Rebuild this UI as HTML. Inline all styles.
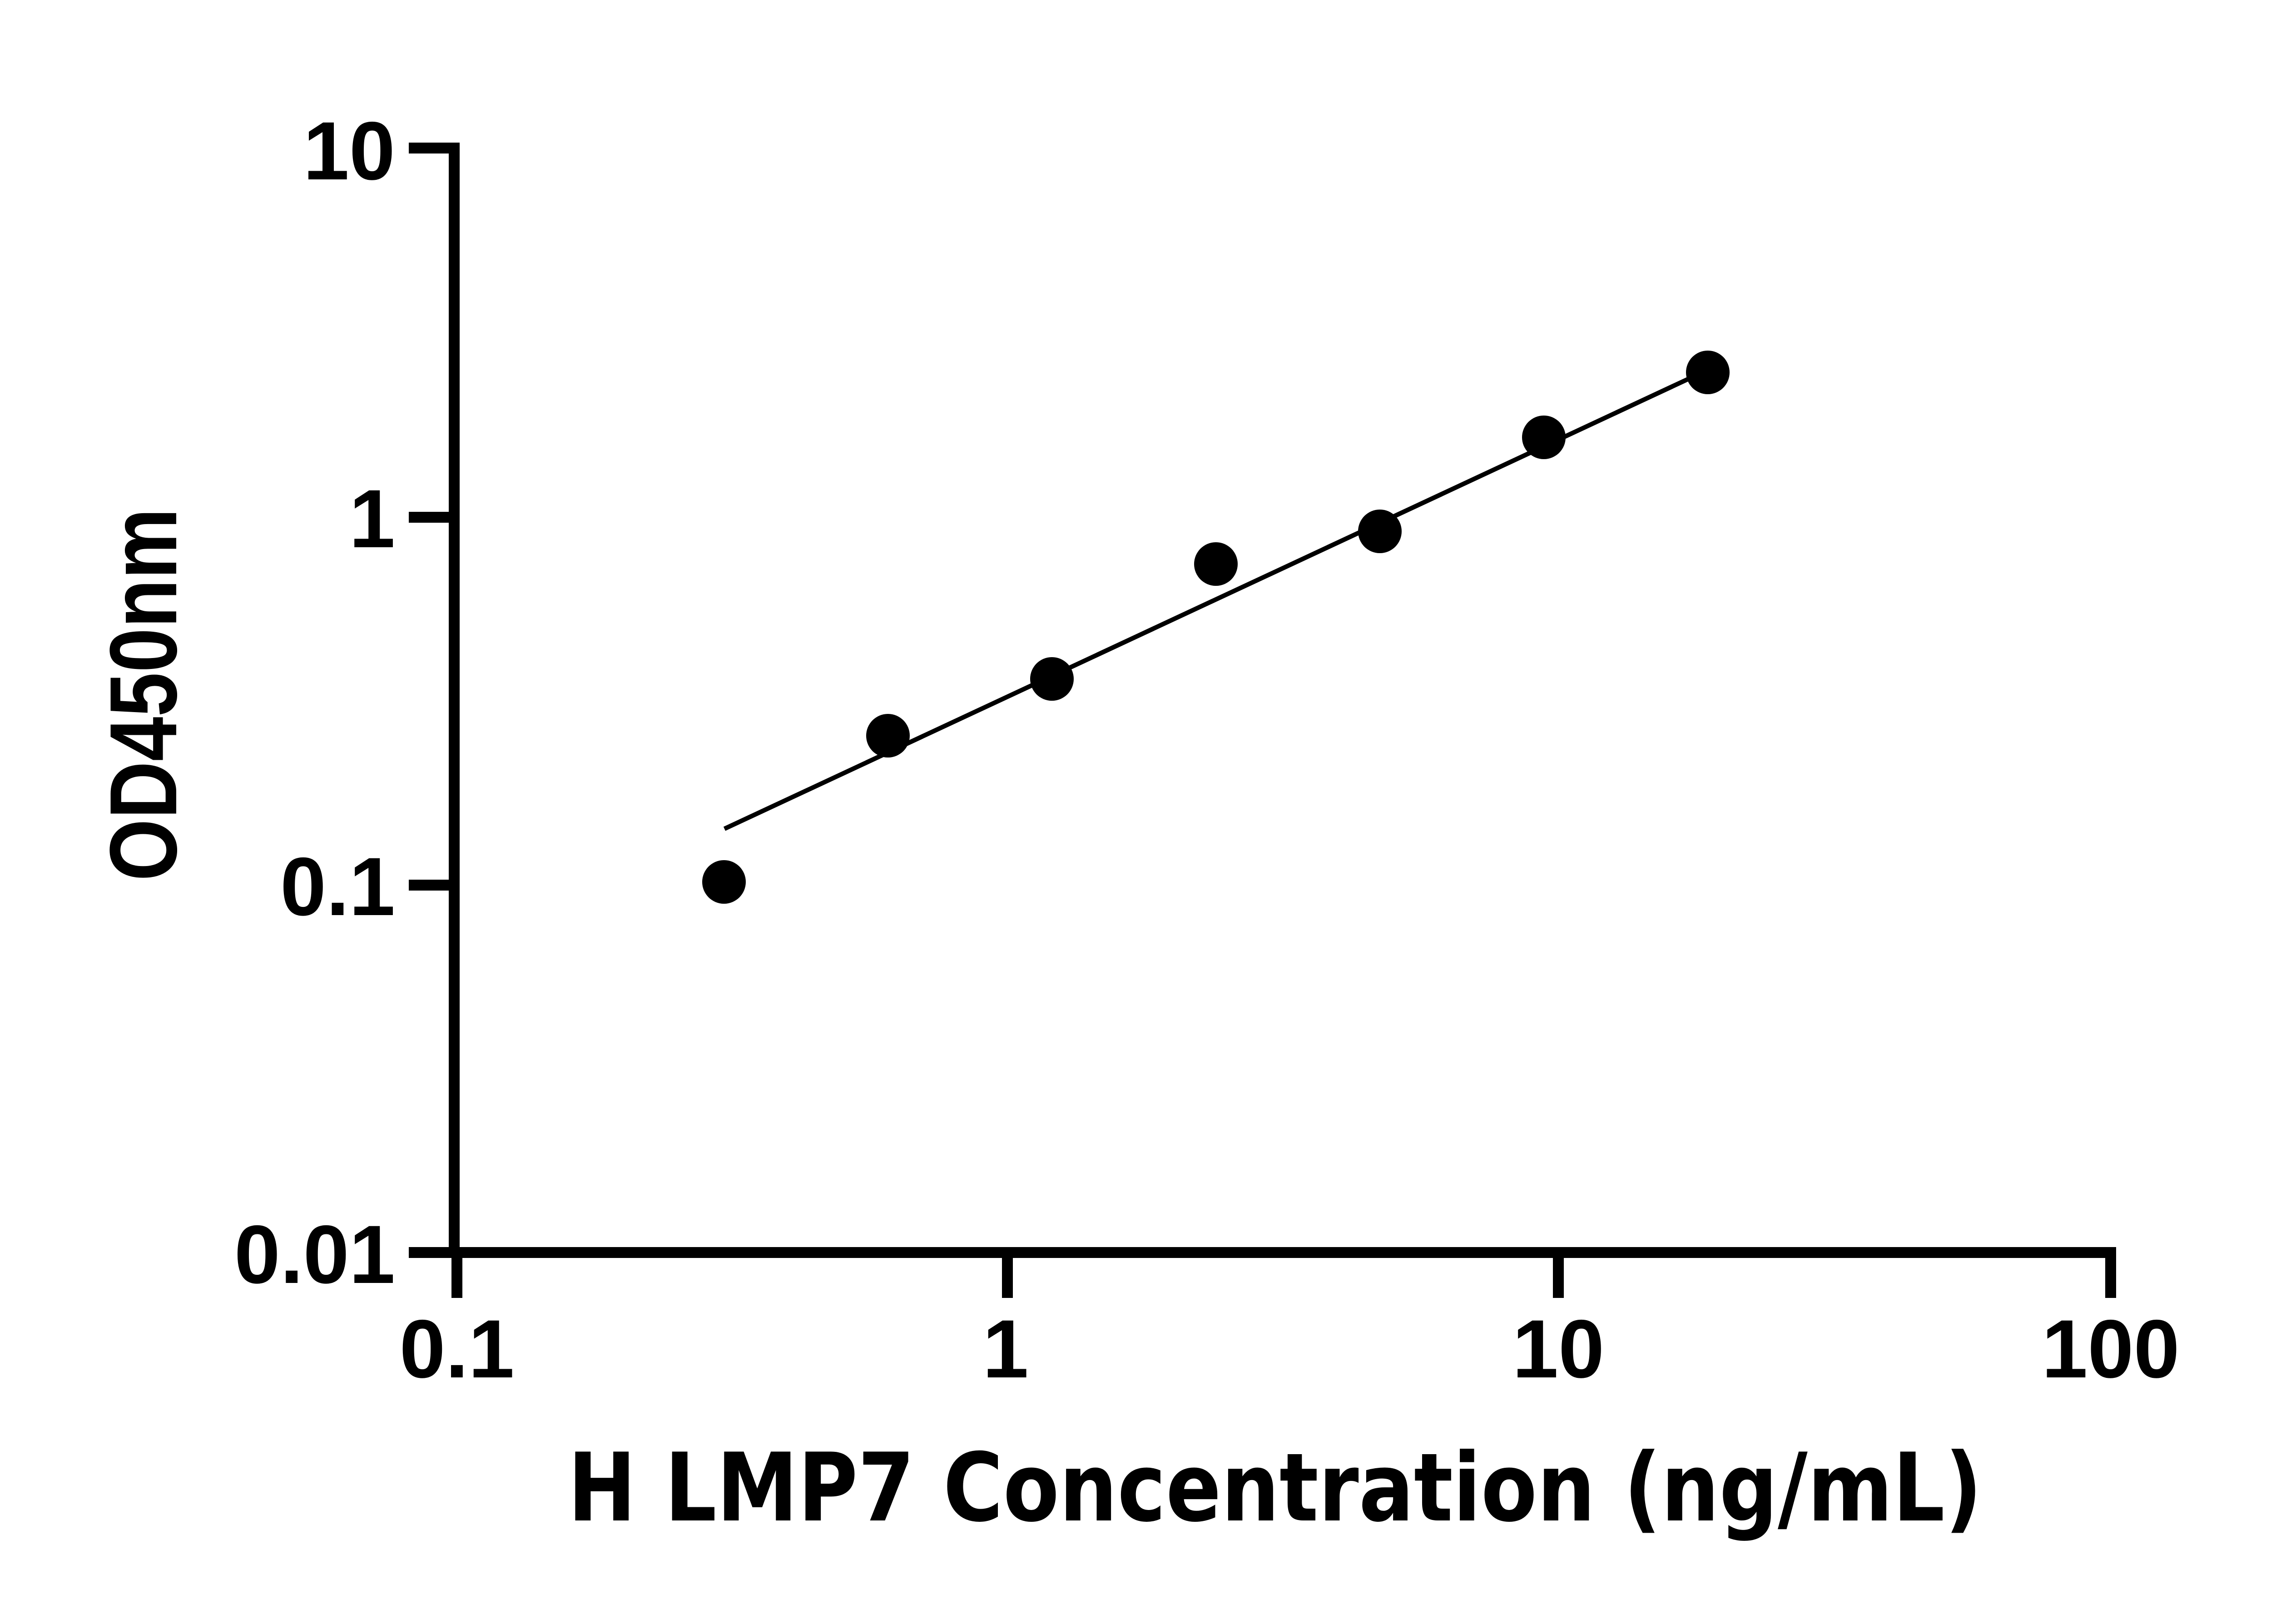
<!DOCTYPE html>
<html><head><meta charset="utf-8"><style>html,body{margin:0;padding:0;background:#fff}svg{display:block}</style></head>
<body>
<svg xmlns="http://www.w3.org/2000/svg" width="5170" height="3576" viewBox="0 0 5170 3576">
<rect width="5170" height="3576" fill="#fff"/>
<g stroke="#000" stroke-width="24" fill="none" stroke-linecap="butt">
<path d="M1000 326 V2770"/>
<path d="M1000 2758 H4647"/>
<path d="M900 326 H1012 M900 1139 H1012 M900 1949 H1012 M900 2758 H1012"/>
<path d="M1006 2758 V2858 M2218 2758 V2858 M3431 2758 V2858 M4647 2746 V2858"/>
</g>
<path d="M1595 1825 L3716 835" stroke="#000" stroke-width="10"/>
<g fill="#000">
<circle cx="1594" cy="1942" r="48"/>
<circle cx="1955" cy="1620" r="48"/>
<circle cx="2316" cy="1495" r="48"/>
<circle cx="2677" cy="1242" r="48"/>
<circle cx="3038" cy="1170" r="48"/>
<circle cx="3399" cy="963" r="48"/>
<circle cx="3760" cy="820" r="48"/>
</g>
<g font-family="Liberation Sans, Arial, sans-serif" font-weight="bold" font-size="182" fill="#000">
<g text-anchor="end">
<text x="870" y="395">10</text>
<text x="870" y="1205">1</text>
<text x="870" y="2015">0.1</text>
<text x="870" y="2825">0.01</text>
</g>
<g text-anchor="middle">
<text x="1006" y="3033">0.1</text>
<text x="2214" y="3033">1</text>
<text x="3431" y="3033">10</text>
<text x="4647" y="3033">100</text>
</g>
<text transform="translate(388,1940) rotate(-90)" font-size="210" textLength="821" lengthAdjust="spacingAndGlyphs">OD450nm</text>
</g>
<text x="2807" y="3348" text-anchor="middle" font-family="DejaVu Sans, Liberation Sans, sans-serif" font-weight="bold" font-size="208" textLength="3114" lengthAdjust="spacingAndGlyphs" fill="#000">H LMP7 Concentration (ng/mL)</text>
</svg>
</body></html>
